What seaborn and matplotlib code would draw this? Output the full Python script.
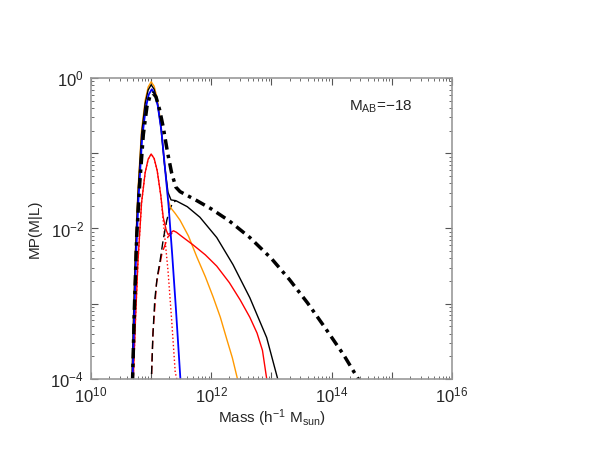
import numpy as np
import pandas as pd
import seaborn as sns
import matplotlib.pyplot as plt
from matplotlib.ticker import LogLocator, FixedLocator, FixedFormatter, NullFormatter

# values, stored as log10(M) and log10(MP(M|L))
orange_logm = [10.68, 10.71, 10.74, 10.78, 10.84, 10.90, 10.95, 11.00, 11.05, 11.10, 11.16, 11.22,
               11.28, 11.32, 11.40, 11.48, 11.62, 11.76, 11.90, 12.03, 12.15, 12.26, 12.35, 12.45]
orange_logp = [-4.05, -3.05, -2.25, -1.50, -0.70, -0.30, -0.12, -0.05, -0.11, -0.27, -0.60, -1.10,
               -1.60, -1.72, -1.80, -1.89, -2.10, -2.38, -2.64, -2.91, -3.18, -3.48, -3.72, -4.05]

black_logm = [10.68, 10.71, 10.74, 10.78, 10.84, 10.90, 10.95, 11.00, 11.05, 11.10, 11.16, 11.22,
              11.28, 11.33, 11.41, 11.60, 11.81, 12.09, 12.36, 12.64, 12.92, 13.12]
black_logp = [-4.05, -3.10, -2.30, -1.55, -0.75, -0.34, -0.16, -0.09, -0.15, -0.31, -0.64, -1.14,
              -1.52, -1.62, -1.63, -1.71, -1.85, -2.12, -2.48, -2.92, -3.45, -4.05]

blue_logm = [10.69, 10.72, 10.75, 10.79, 10.85, 10.91, 10.96, 11.01, 11.06, 11.11, 11.17, 11.23,
             11.29, 11.35, 11.41, 11.49]
blue_logp = [-4.05, -3.15, -2.35, -1.60, -0.80, -0.40, -0.22, -0.15, -0.21, -0.37, -0.70, -1.20,
             -1.70, -2.35, -3.05, -4.05]

red_logm = [10.70, 10.74, 10.78, 10.84, 10.90, 10.95, 11.00, 11.05, 11.10, 11.16, 11.20, 11.25,
            11.28, 11.32, 11.37, 11.42, 11.50, 11.70, 11.90, 12.09, 12.30, 12.48, 12.64, 12.76,
            12.85, 12.93]
red_logp = [-4.05, -3.20, -2.45, -1.66, -1.26, -1.08, -1.01, -1.07, -1.23, -1.56, -1.85, -2.02,
            -2.08, -2.06, -2.03, -2.05, -2.10, -2.22, -2.35, -2.50, -2.72, -2.95, -3.18, -3.39,
            -3.62, -4.05]

red_cen_logm = [10.70, 10.74, 10.78, 10.84, 10.90, 10.95, 11.00, 11.05, 11.10, 11.16, 11.22, 11.28,
                11.34, 11.40, 11.44]
red_cen_logp = [-4.05, -3.20, -2.45, -1.66, -1.26, -1.08, -1.01, -1.07, -1.23, -1.56, -2.06, -2.56,
                -3.21, -3.91, -4.05]

red_sat_logm = [11.00, 11.03, 11.09, 11.18, 11.28, 11.35]
red_sat_logp = [-4.10, -3.39, -2.72, -2.33, -2.11, -2.06]

black_sat_logm = [11.00, 11.03, 11.06, 11.10, 11.15, 11.20, 11.26, 11.31, 11.36, 11.41]
black_sat_logp = [-4.10, -3.40, -2.95, -2.65, -2.42, -2.15, -1.89, -1.74, -1.66, -1.63]

total_logm = [10.69, 10.72, 10.76, 10.81, 10.87, 10.93, 10.98, 11.03, 11.08, 11.14, 11.20, 11.27,
              11.34, 11.41, 11.48, 11.62, 11.76, 12.00, 12.30, 12.64, 13.00, 13.30, 13.60, 13.90,
              14.20, 14.48]
total_logp = [-4.05, -3.10, -2.10, -1.40, -0.75, -0.38, -0.24, -0.20, -0.25, -0.42, -0.65, -0.98,
              -1.26, -1.45, -1.51, -1.57, -1.63, -1.74, -1.90, -2.12, -2.40, -2.68, -2.99, -3.33,
              -3.68, -4.05]

x_ticks = [1e10, 1e11, 1e12, 1e13, 1e14, 1e15, 1e16]
x_tick_labels = ['$10^{10}$', '', '$10^{12}$', '', '$10^{14}$', '', '$10^{16}$']
y_ticks = [1e-4, 1e-3, 1e-2, 1e-1, 1]
y_tick_labels = ['$10^{-4}$', '', '$10^{-2}$', '', '$10^{0}$']

sns.set_style('ticks')
plt.rcParams['font.family'] = ['Liberation Sans', 'DejaVu Sans']
plt.rcParams['mathtext.fontset'] = 'custom'
plt.rcParams['mathtext.rm'] = 'Liberation Sans'
plt.rcParams['mathtext.it'] = 'Liberation Sans'

fig = plt.figure(figsize=(5.92, 4.58), dpi=100)
ax = fig.add_axes([0.1537, 0.1725, 0.6098, 0.6572])


def curve(logm, logp, color, ls, lw):
    df = pd.DataFrame({'m': 10 ** np.array(logm), 'p': 10 ** np.array(logp)})
    sns.lineplot(data=df, x='m', y='p', ax=ax, color=color, linestyle=ls, linewidth=lw,
                 sort=False, estimator=None)


curve(red_cen_logm, red_cen_logp, 'red', ':', 1.0)
curve(red_sat_logm, red_sat_logp, 'red', (0, (6, 3)), 1.0)
curve(black_sat_logm, black_sat_logp, 'black', (0, (6, 3)), 1.0)
curve(orange_logm, orange_logp, '#ff9900', '-', 1.0)
curve(red_logm, red_logp, 'red', '-', 1.0)
curve(black_logm, black_logp, 'black', '-', 1.0)
curve(blue_logm, blue_logp, 'blue', '-', 1.3)
curve(total_logm, total_logp, 'black', (0, (3, 1.5, 1, 1.5)), 2.5)

ax.set_xscale('log')
ax.set_yscale('log')
ax.set_xlim(1e10, 1e16)
ax.set_ylim(1e-4, 1)

ax.xaxis.set_major_locator(FixedLocator(x_ticks))
ax.xaxis.set_major_formatter(FixedFormatter(x_tick_labels))
ax.xaxis.set_minor_locator(LogLocator(base=10, subs=np.arange(2, 10), numticks=20))
ax.xaxis.set_minor_formatter(NullFormatter())
ax.yaxis.set_major_locator(FixedLocator(y_ticks))
ax.yaxis.set_major_formatter(FixedFormatter(y_tick_labels))
ax.yaxis.set_minor_locator(LogLocator(base=10, subs=np.arange(2, 10), numticks=20))
ax.yaxis.set_minor_formatter(NullFormatter())

ax.tick_params(which='both', direction='in', top=True, right=True, color='#555555')
ax.tick_params(which='major', length=5, width=0.8, labelsize=12, pad=5)
ax.tick_params(which='minor', length=2.5, width=0.6)
for s in ax.spines.values():
    s.set_color('#999999')
    s.set_linewidth(1.2)

ax.set_xlabel('Mass (h$^{-1}$ M$_{sun}$)', fontsize=11, labelpad=1)
ax.set_ylabel('MP(M|L)', fontsize=11, labelpad=6)
ax.text(0.89, 0.905, 'M$_{AB}$=\u221218', transform=ax.transAxes, ha='right', va='center',
        fontsize=11)

fig.savefig('out.png', dpi=100)
